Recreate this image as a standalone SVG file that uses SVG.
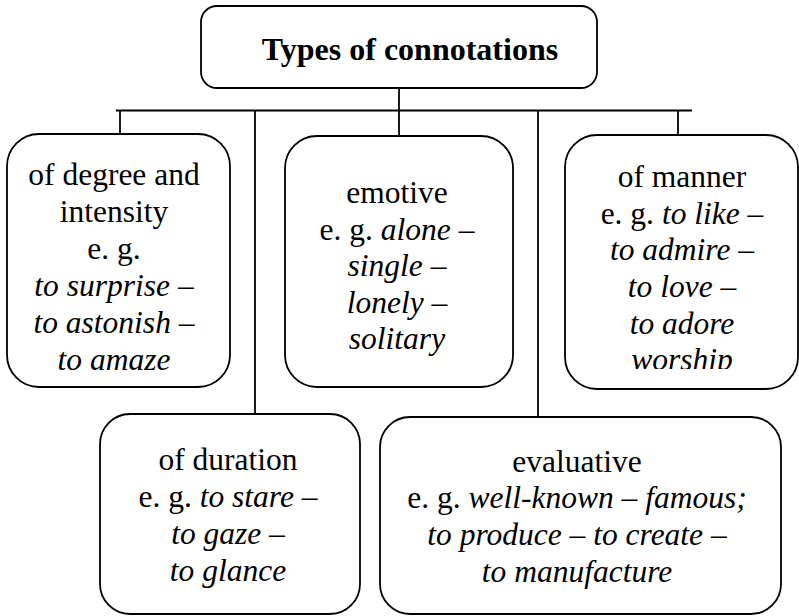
<svg xmlns="http://www.w3.org/2000/svg" width="799" height="616" viewBox="0 0 799 616">
  <style>
    .box { fill: #ffffff; stroke: #000000; stroke-width: 1.8; }
    .wire { fill: none; stroke: #000000; stroke-width: 1.8; }
    .t { font-family: "Liberation Serif", "Times New Roman", Times, Tinos, "Noto Serif", "DejaVu Serif", FreeSerif, "Nimbus Roman", serif; font-size: 31.5px; fill: #000000; text-anchor: middle; }
    .title { font-weight: bold; font-size: 32px; }
    .i { font-style: italic; }
  </style>
  <defs>
    <clipPath id="clipDegree"><rect x="0" y="130" width="240" height="242"/></clipPath>
    <clipPath id="clipManner"><rect x="560" y="130" width="239" height="239"/></clipPath>
  </defs>

  <!-- connectors: trunk, bus bar and drops -->
  <g id="connectors" class="wire">
    <line x1="399" y1="88" x2="399" y2="110.5"/>
    <line x1="116" y1="110.5" x2="692" y2="110.5"/>
    <line x1="120" y1="110.5" x2="120" y2="134"/>
    <line x1="255" y1="110.5" x2="255" y2="414"/>
    <line x1="399" y1="110.5" x2="399" y2="136"/>
    <line x1="538" y1="110.5" x2="538" y2="417"/>
    <line x1="678" y1="110.5" x2="678" y2="135"/>
  </g>

  <!-- root -->
  <g id="root">
    <rect class="box" x="201" y="6" width="396" height="82" rx="16"/>
    <text class="t title" x="410" y="60">Types of connotations</text>
  </g>

  <!-- degree and intensity -->
  <g id="degree">
    <rect class="box" x="7" y="134" width="223" height="253" rx="32"/>
    <g clip-path="url(#clipDegree)">
      <text class="t" x="114" y="185">of degree and</text>
      <text class="t" x="114" y="222">intensity</text>
      <text class="t" x="114" y="259">e. g.</text>
      <text class="t i" x="114" y="296">to surprise –</text>
      <text class="t i" x="114" y="333">to astonish –</text>
      <text class="t i" x="114" y="370">to amaze</text>
    </g>
  </g>

  <!-- emotive -->
  <g id="emotive">
    <rect class="box" x="285" y="136" width="228" height="251" rx="32"/>
    <text class="t" x="397" y="203">emotive</text>
    <text class="t" x="397" y="239.5">e. g. <tspan class="i">alone –</tspan></text>
    <text class="t i" x="397" y="276">single –</text>
    <text class="t i" x="397" y="312.5">lonely –</text>
    <text class="t i" x="397" y="349">solitary</text>
  </g>

  <!-- manner -->
  <g id="manner">
    <rect class="box" x="565" y="135" width="233" height="254" rx="32"/>
    <g clip-path="url(#clipManner)">
      <text class="t" x="682" y="187">of manner</text>
      <text class="t" x="682" y="224">e. g. <tspan class="i">to like –</tspan></text>
      <text class="t i" x="682" y="260">to admire –</text>
      <text class="t i" x="682" y="297">to love –</text>
      <text class="t i" x="682" y="334">to adore</text>
      <text class="t i" x="682" y="370">worship</text>
    </g>
  </g>

  <!-- duration -->
  <g id="duration">
    <rect class="box" x="100" y="414" width="260" height="200" rx="30"/>
    <text class="t" x="228" y="470">of duration</text>
    <text class="t" x="228" y="507">e. g. <tspan class="i">to stare –</tspan></text>
    <text class="t i" x="228" y="544">to gaze –</text>
    <text class="t i" x="228" y="581">to glance</text>
  </g>

  <!-- evaluative -->
  <g id="evaluative">
    <rect class="box" x="380" y="417" width="401" height="197" rx="30"/>
    <text class="t" x="577" y="472">evaluative</text>
    <text class="t" x="577" y="508">e. g. <tspan class="i">well-known – famous;</tspan></text>
    <text class="t i" x="577" y="545">to produce – to create –</text>
    <text class="t i" x="577" y="582">to manufacture</text>
  </g>
</svg>
